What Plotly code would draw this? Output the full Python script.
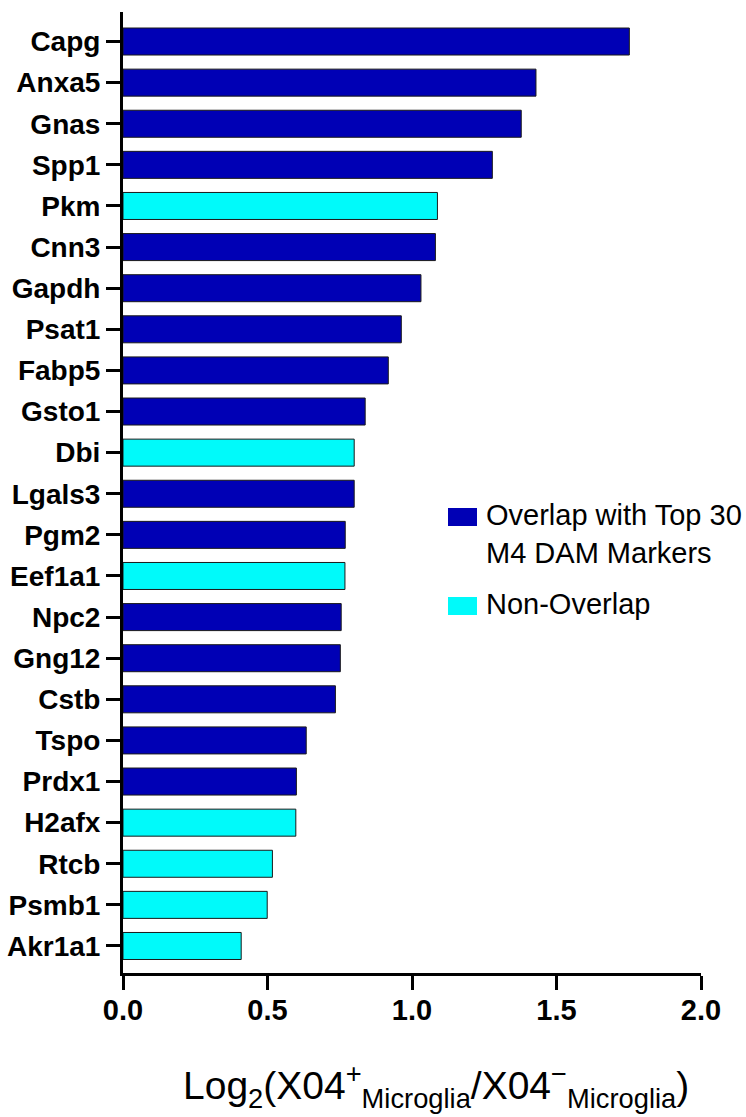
import plotly.graph_objects as go

# Genes, top to bottom, with log2 fold change and overlap group
genes = ["Capg", "Anxa5", "Gnas", "Spp1", "Pkm", "Cnn3", "Gapdh", "Psat1",
         "Fabp5", "Gsto1", "Dbi", "Lgals3", "Pgm2", "Eef1a1", "Npc2", "Gng12",
         "Cstb", "Tspo", "Prdx1", "H2afx", "Rtcb", "Psmb1", "Akr1a1"]
log2fc = [1.752, 1.429, 1.378, 1.278, 1.088, 1.081, 1.031, 0.963,
          0.918, 0.838, 0.800, 0.800, 0.769, 0.768, 0.755, 0.752,
          0.735, 0.634, 0.600, 0.598, 0.517, 0.499, 0.409]
overlap = [True, True, True, True, False, True, True, True,
           True, True, False, True, True, False, True, True,
           True, True, True, False, False, False, False]

x_ticks = [0.0, 0.5, 1.0, 1.5, 2.0]
x_tick_text = ["0.0", "0.5", "1.0", "1.5", "2.0"]

BLUE = "#0000B5"
CYAN = "#00FAFA"
FONT = "Arial, Liberation Sans, Helvetica, sans-serif"

W, H = 746, 1117
ML, MR, MT, MB = 123, 45, 12, 144
PW, PH = W - ML - MR, H - MT - MB


def px(x):
    return (x - ML) / PW


def py(y):
    return (H - MB - y) / PH


fig = go.Figure(go.Bar(
    x=log2fc,
    y=genes,
    orientation="h",
    marker=dict(color=[BLUE if o else CYAN for o in overlap],
                line=dict(color="#1a1a1a", width=1)),
    showlegend=False,
))

fig.update_layout(
    width=W, height=H,
    margin=dict(l=ML, r=MR, t=MT, b=MB, autoexpand=False),
    paper_bgcolor="white", plot_bgcolor="white",
    bargap=0.343,
    font=dict(family=FONT, color="black"),
    xaxis=dict(
        range=[0, 2], tickvals=x_ticks, ticktext=x_tick_text,
        showline=True, linecolor="black", linewidth=3,
        ticks="outside", ticklen=14, tickwidth=3, tickcolor="black",
        tickfont=dict(family=FONT, size=29, weight="bold"),
        ticklabelstandoff=-5, automargin=False,
        showgrid=False, zeroline=False,
    ),
    yaxis=dict(
        type="category", categoryorder="array", categoryarray=genes,
        range=[22.657, -0.718],
        showline=True, linecolor="black", linewidth=3,
        ticks="outside", ticklen=14, tickwidth=3, tickcolor="black",
        tickfont=dict(family=FONT, size=28, weight="bold"),
        ticklabelstandoff=0, automargin=False,
        showgrid=False, zeroline=False,
    ),
)

# Legend drawn as swatches with labels
legend_items = [
    (BLUE, 508, 526, "Overlap with Top 30<br>M4 DAM Markers", 517),
    (CYAN, 597, 615, "Non-Overlap", 606),
]
for color, y0, y1, label, ymid in legend_items:
    fig.add_shape(type="rect", xref="paper", yref="paper",
                  x0=px(448), x1=px(477), y0=py(y1), y1=py(y0),
                  fillcolor=color, line=dict(width=0))
    fig.add_annotation(xref="paper", yref="paper", x=px(484), y=py(ymid - 20),
                       xanchor="left", yanchor="top", align="left",
                       text=label, showarrow=False,
                       font=dict(family=FONT, size=29, color="black"))

# Axis title
fig.add_annotation(
    xref="paper", yref="paper", x=px(181), y=py(1086),
    xanchor="left", yanchor="middle", showarrow=False,
    text="Log<sub>2</sub>(X04<sup>+</sup><sub>Microglia</sub>/X04<sup>−</sup><sub>Microglia</sub>)",
    font=dict(family=FONT, size=39, color="black"),
)

fig.write_html("out.html")
